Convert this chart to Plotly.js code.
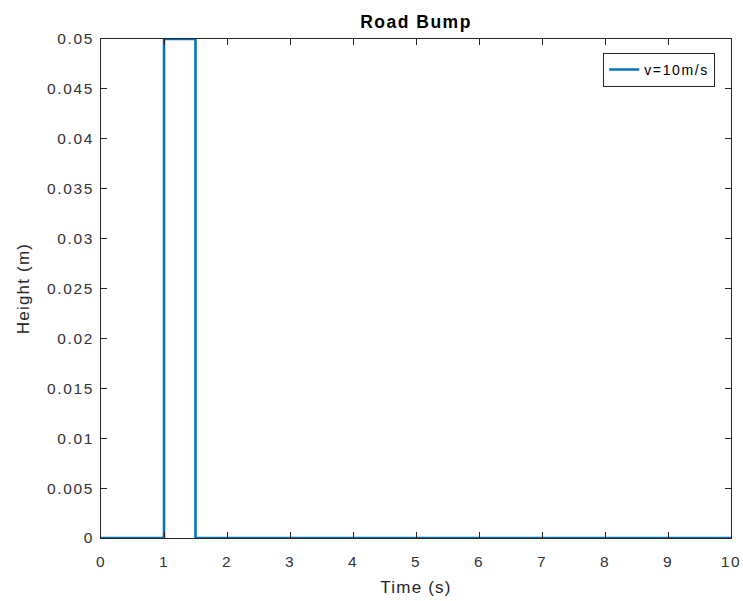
<!DOCTYPE html>
<html><head><meta charset="utf-8">
<script src="https://cdn.plot.ly/plotly-3.0.1.min.js"></script>
<style>
html,body{margin:0;padding:0;background:#fff;}
.ytick text, .xtick text{letter-spacing:1.6px;}
.gtitle{letter-spacing:1.5px;}
.xtitle, .ytitle{letter-spacing:1.2px;}
.legendtext{letter-spacing:1.6px;}
</style>
</head><body>
<div id="chart" style="width:743px;height:601px;"></div>
<script>
var timeS = [0, 1, 1, 1.5, 1.5, 10];
var heightM = [0, 0, 0.05, 0.05, 0, 0];
var seriesName = 'v=10m/s';
var yTicks = [0, 0.005, 0.01, 0.015, 0.02, 0.025, 0.03, 0.035, 0.04, 0.045, 0.05];
var yTickText = ['0','0.005','0.01','0.015','0.02','0.025','0.03','0.035','0.04','0.045','0.05'];
var xTicks = [0,1,2,3,4,5,6,7,8,9,10];

var FONT = 'Liberation Sans, Arial, sans-serif';
var trace = {x: timeS, y: heightM, mode: 'lines', name: seriesName,
  line: {color: '#0072BD', width: 2.5}};
var axisCommon = {showline: true, mirror: 'ticks', linecolor: '#262626', linewidth: 1,
  ticks: 'inside', ticklen: 6, tickcolor: '#262626', showgrid: false, zeroline: false,
  tickfont: {family: FONT, size: 15.5, color: '#333'}};
var layout = {
  width: 743, height: 601,
  margin: {l: 101, r: 12, t: 39, b: 63},
  paper_bgcolor: '#fff', plot_bgcolor: '#fff',
  title: {text: '<b>Road Bump</b>', xref: 'paper', x: 0.5, xanchor: 'center', y: 0.964, yanchor: 'middle',
    font: {family: FONT, size: 17.5, color: '#000'}},
  xaxis: Object.assign({}, axisCommon, {range: [0, 10], tickvals: xTicks, ticklabelstandoff: 9,
    title: {text: 'Time (s)', standoff: 12, font: {family: FONT, size: 17, color: '#262626'}}}),
  yaxis: Object.assign({}, axisCommon, {range: [0, 0.05], tickvals: yTicks, ticktext: yTickText, ticklabelstandoff: 3,
    title: {text: 'Height (m)', standoff: 13, font: {family: FONT, size: 17, color: '#262626'}}}),
  showlegend: true,
  legend: {x: 0.975, xanchor: 'right', y: 0.972, yanchor: 'top', bordercolor: '#262626', borderwidth: 1,
    bgcolor: '#fff', font: {family: FONT, size: 14, color: '#000'}}
};
Plotly.newPlot('chart', [trace], layout, {displayModeBar: false, staticPlot: true});
</script>
</body></html>
